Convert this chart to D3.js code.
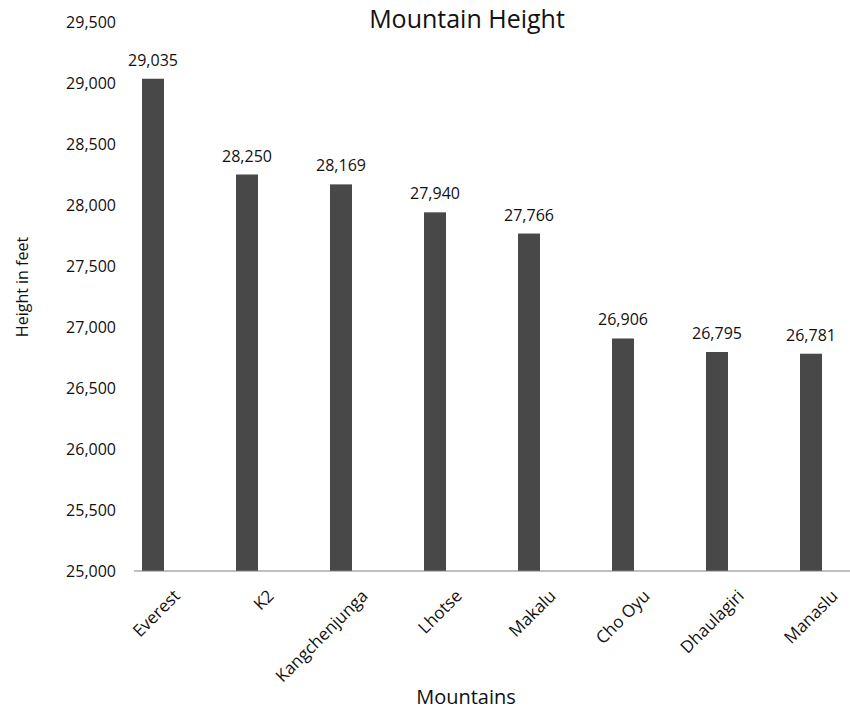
<!DOCTYPE html>
<html>
<head>
<meta charset="utf-8">
<script src="https://cdn.jsdelivr.net/npm/d3@7"></script>
<style>
  body { margin: 0; background: #fff; }
  text { font-family: "Open Sans", sans-serif; fill: #111; }
</style>
</head>
<body>
<div id="container"></div>
<script>
/* DATA */
const mountains = ["Everest", "K2", "Kangchenjunga", "Lhotse", "Makalu", "Cho Oyu", "Dhaulagiri", "Manaslu"];
const heights = [29035, 28250, 28169, 27940, 27766, 26906, 26795, 26781];
const yTicks = [25000, 25500, 26000, 26500, 27000, 27500, 28000, 28500, 29000, 29500];

/* CONSTANTS */
const width = 850;
const height = 710;

const data = mountains.map((m, i) => ({name: m, value: heights[i]}));

/* SCALES */
const xScale = d3.scaleBand()
  .domain(mountains)
  .range([106, 858]);

const yScale = d3.scaleLinear()
  .domain([25000, 29500])
  .range([571, 22]);

const fmt = d3.format(",");

/* SVG */
const svg = d3.select("#container")
  .append("svg")
    .attr("width", width)
    .attr("height", height);

// title
svg.append("text")
  .attr("x", 467)
  .attr("y", 28)
  .attr("text-anchor", "middle")
  .style("font-size", "25px")
  .text("Mountain Height");

// y axis (labels only)
const yAxis = svg.append("g")
  .attr("transform", "translate(116,0)")
  .call(d3.axisLeft(yScale).tickValues(yTicks).tickFormat(fmt).tickSize(0).tickPadding(0));
yAxis.select(".domain").remove();
yAxis.selectAll("text")
  .style("font-size", "16px")
  .style("font-family", "'Open Sans', sans-serif")
  .attr("fill", "#111");

// bars
const barW = 22;
svg.selectAll("rect.bar")
  .data(data)
  .join("rect")
    .attr("class", "bar")
    .attr("x", d => xScale(d.name) + xScale.bandwidth() / 2 - barW / 2)
    .attr("y", d => yScale(d.value))
    .attr("width", barW)
    .attr("height", d => yScale(25000) - yScale(d.value))
    .attr("fill", "#484848");

// value labels
svg.selectAll("text.val")
  .data(data)
  .join("text")
    .attr("class", "val")
    .attr("x", d => xScale(d.name) + xScale.bandwidth() / 2)
    .attr("y", d => yScale(d.value) - 13)
    .attr("text-anchor", "middle")
    .style("font-size", "16px")
    .text(d => fmt(d.value));

// baseline
svg.append("line")
  .attr("x1", 134)
  .attr("x2", 850)
  .attr("y1", yScale(25000))
  .attr("y2", yScale(25000))
  .attr("stroke", "#808080")
  .attr("stroke-width", 1.2);

// x labels, rotated
svg.selectAll("text.cat")
  .data(mountains)
  .join("text")
    .attr("class", "cat")
    .attr("text-anchor", "end")
    .attr("transform", d => "translate(" + (xScale(d) + xScale.bandwidth() / 2 + 28) + ",597)rotate(-45)")
    .style("font-size", "17px")
    .text(d => d);

// axis titles
svg.append("text")
  .attr("x", 466)
  .attr("y", 704)
  .attr("text-anchor", "middle")
  .style("font-size", "20px")
  .text("Mountains");

svg.append("text")
  .attr("transform", "translate(28,287)rotate(-90)")
  .attr("text-anchor", "middle")
  .style("font-size", "16px")
  .text("Height in feet");
</script>
</body>
</html>
